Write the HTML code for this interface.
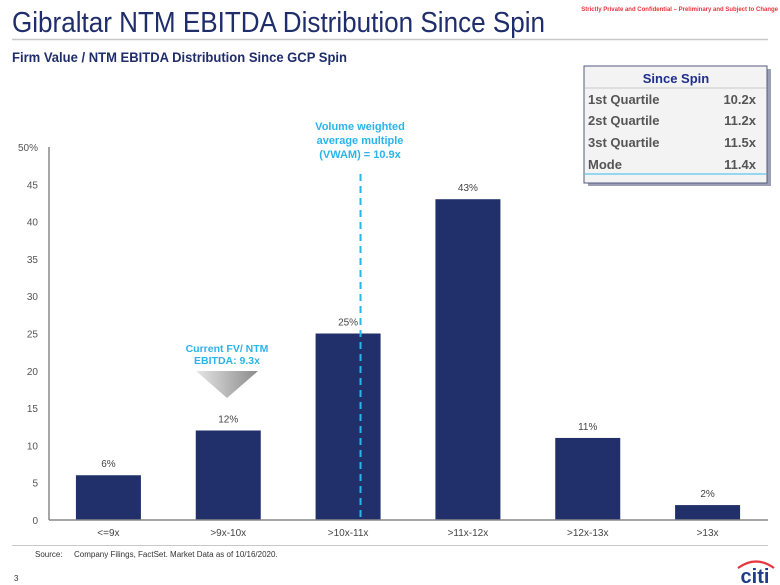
<!DOCTYPE html>
<html><head><meta charset="utf-8"><style>
html,body{margin:0;padding:0;background:#fff;}
svg{display:block;font-family:"Liberation Sans",Arial,sans-serif;}
</style></head><body>
<svg id="chart" width="780" height="585" viewBox="0 0 780 585">
  <text x="12" y="32" font-size="29" fill="#1f2d6b" textLength="533" lengthAdjust="spacingAndGlyphs">Gibraltar NTM EBITDA Distribution Since Spin</text>
  <text x="778" y="11" font-size="6" font-weight="bold" fill="#e8343c" text-anchor="end">Strictly Private and Confidential – Preliminary and Subject to Change</text>
  <line x1="12" y1="39.5" x2="768" y2="39.5" stroke="#c8c8c8" stroke-width="1.5"/>
  <text x="12" y="62" font-size="14" font-weight="bold" fill="#1f2d6b" textLength="335" lengthAdjust="spacingAndGlyphs">Firm Value / NTM EBITDA Distribution Since GCP Spin</text>

  <g>
    <rect x="586" y="67" width="183" height="117" fill="#3a3f6a" opacity="0.5" transform="translate(2,2)"/>
    <rect x="584" y="66" width="183" height="117" fill="#f3f3f3" stroke="#555a80" stroke-width="1"/>
    <text x="676" y="83" font-size="13" font-weight="bold" fill="#1f2d8b" text-anchor="middle">Since Spin</text>
    <line x1="585" y1="88" x2="766" y2="88" stroke="#c8c8c8"/>
    <line x1="585" y1="174" x2="766" y2="174" stroke="#3ab8e8" stroke-width="1"/>
    <g font-size="13" font-weight="bold" fill="#555">
      <text x="588" y="104">1st Quartile</text><text x="756" y="104" text-anchor="end">10.2x</text>
      <text x="588" y="125">2st Quartile</text><text x="756" y="125" text-anchor="end">11.2x</text>
      <text x="588" y="147">3st Quartile</text><text x="756" y="147" text-anchor="end">11.5x</text>
      <text x="588" y="169">Mode</text><text x="756" y="169" text-anchor="end">11.4x</text>
    </g>
  </g>

  <g id="plot"></g>

  <g>
    <text x="360" y="130" font-size="11" font-weight="bold" fill="#2ab4ea" text-anchor="middle">Volume weighted</text>
    <text x="360" y="144" font-size="11" font-weight="bold" fill="#2ab4ea" text-anchor="middle">average multiple</text>
    <text x="360" y="158" font-size="11" font-weight="bold" fill="#2ab4ea" text-anchor="middle">(VWAM) = 10.9x</text>
  </g>
  <g>
    <defs><linearGradient id="gr" x1="0" x2="1"><stop offset="0" stop-color="#e6e6e6"/><stop offset="0.5" stop-color="#b8b8b8"/><stop offset="1" stop-color="#8a8a8a"/></linearGradient></defs>
    <text x="227" y="352" font-size="10.5" font-weight="bold" fill="#2ab4ea" text-anchor="middle">Current FV/ NTM</text>
    <text x="227" y="364" font-size="10.5" font-weight="bold" fill="#2ab4ea" text-anchor="middle">EBITDA: 9.3x</text>
    <polygon points="196,371 258,371 227,398" fill="url(#gr)"/>
  </g>

  <line x1="12" y1="545.5" x2="768" y2="545.5" stroke="#c8c8c8"/>
  <text x="35" y="557" font-size="8" fill="#333">Source:</text>
  <text x="74" y="557" font-size="8" fill="#333">Company Filings, FactSet. Market Data as of 10/16/2020.</text>
  <text x="14" y="581" font-size="8" fill="#333">3</text>
  <g>
    <path d="M738 568 Q756 555 774 568" fill="none" stroke="#e8343c" stroke-width="2.2"/>
    <text x="755" y="583" font-size="20" font-weight="bold" fill="#1f3b8b" text-anchor="middle">citi</text>
  </g>
</svg>
<script>
const categories = ["<=9x", ">9x-10x", ">10x-11x", ">11x-12x", ">12x-13x", ">13x"];
const values = [6, 12, 25, 43, 11, 2];
const valueLabels = ["6%", "12%", "25%", "43%", "11%", "2%"];
const yTicks = [0, 5, 10, 15, 20, 25, 30, 35, 40, 45, 50];
const yTickLabels = ["0", "5", "10", "15", "20", "25", "30", "35", "40", "45", "50%"];
const vwam = 10.9;

const NS = "http://www.w3.org/2000/svg";
const plot = document.getElementById("plot");
const x0 = 49, x1 = 768, y0 = 520, yTop = 147;
const yScale = v => y0 - (v / 50) * (y0 - yTop);
const band = (x1 - x0) / categories.length;
const xCenter = i => x0 + band * (i + 0.5) - 0.5;
const xMult = m => x0 + band * (m - 8);
function mk(tag, attrs, text) {
  const el = document.createElementNS(NS, tag);
  for (const k in attrs) el.setAttribute(k, attrs[k]);
  if (text !== undefined) el.textContent = text;
  plot.appendChild(el);
  return el;
}
yTicks.forEach((t, i) => {
  const el = mk("text", {x: 38, y: yScale(t) + 4, "font-size": 10, fill: "#555", "text-anchor": "end"}, yTickLabels[i]);
  
  
});
const bw = 65;
values.forEach((v, i) => {
  const r = mk("rect", {x: xCenter(i) - bw / 2, y: yScale(v), width: bw, height: y0 - yScale(v), fill: "#21306a"});
  
  
  const t = mk("text", {x: xCenter(i), y: yScale(v) - 8, "font-size": 10, fill: "#444", "text-anchor": "middle"}, valueLabels[i]);
  
  
  const c = mk("text", {x: xCenter(i), y: 536, "font-size": 10, fill: "#444", "text-anchor": "middle"}, categories[i]);
  
  
});
const ya = mk("line", {x1: x0, y1: yTop, x2: x0, y2: y0, stroke: "#888", "stroke-width": 1.5});


const xa = mk("line", {x1: x0, y1: y0, x2: x1, y2: y0, stroke: "#888", "stroke-width": 1.5});


const vx = xMult(vwam) - 36;
const vl = mk("line", {x1: vx, y1: 174, x2: vx, y2: y0, stroke: "#2ab4ea", "stroke-width": 2, "stroke-dasharray": "7,5"});


</script>
</body></html>
